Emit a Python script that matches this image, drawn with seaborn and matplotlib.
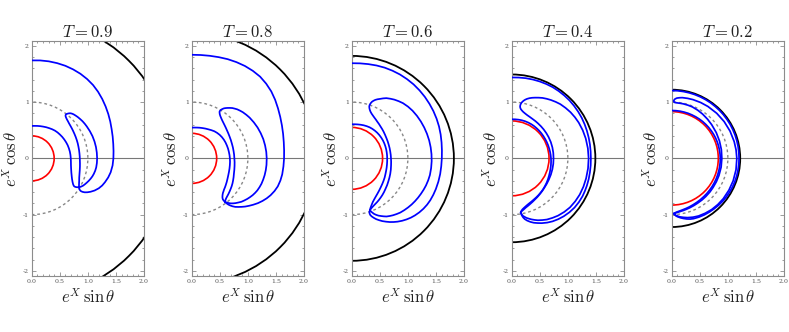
import numpy as np
import matplotlib
matplotlib.use("Agg")
import matplotlib.pyplot as plt
import seaborn as sns
import pandas as pd
from matplotlib.patches import Arc
from matplotlib.ticker import MultipleLocator, FixedLocator, FixedFormatter

# ---------------- data ----------------
T_VALUES = [0.9, 0.8, 0.6, 0.4, 0.2]
RED_RADIUS = [0.40, 0.445, 0.55, 0.665, 0.83]
BLACK_RADIUS = [2.45, 2.23, 1.82, 1.49, 1.22]
GRAY_RADIUS = 1.0

X_TICKS = [0.0, 0.5, 1.0, 1.5, 2.0]
X_TICK_LABELS = ["0.0", "0.5", "1.0", "1.5", "2.0"]
Y_TICKS = [-2, -1, 0, 1, 2]
Y_TICK_LABELS = ["-2", "-1", "0", "1", "2"]

# blue contour branches, read as (theta in degrees from the +y axis, e^X)
INNER_T09 = [(0, .576), (5, .579), (10, .585), (15, .592), (20, .60), (25, .61), (30, .62),
             (35, .632), (40, .643), (45, .651), (50, .657), (55, .664), (60, .67),
             (65, .676), (70, .682), (75, .686), (80, .69), (85, .693), (90, .696),
             (95, .701), (100, .71), (105, .727), (110, .752), (114, .78), (117, .806),
             (120, .84), (122, .87), (123.1, .895), (123.3, .915), (123, .935),
             (122.4, .958), (121.2, .985)]
OUTER_T09 = [(0, 1.74), (5, 1.746), (10, 1.75), (15, 1.751), (20, 1.75), (25, 1.744),
             (30, 1.735), (35, 1.72), (40, 1.70), (45, 1.672), (50, 1.64), (55, 1.607),
             (60, 1.575), (65, 1.544), (70, 1.515), (75, 1.493), (80, 1.475), (85, 1.463),
             (90, 1.455), (95, 1.446), (100, 1.428), (104, 1.404), (108, 1.372),
             (111, 1.345), (114, 1.308), (117, 1.258), (119.5, 1.205), (121.3, 1.16),
             (122.6, 1.12), (123.4, 1.08), (123.6, 1.045), (123, 1.015), (121.2, .985)]
LOOP_T09 = [(121.2, .985), (119.5, .968), (117.5, .951), (115, .933), (112, .913),
            (108, .895), (104, .882), (100, .872), (96, .864), (92, .858), (88, .856),
            (84, .855), (80, .856), (76, .858), (72, .862), (68, .866), (64, .871),
            (60, .877), (56, .885), (53, .892), (50, .90), (47, .91), (44.5, .922),
            (42, .935), (40.2, .948), (39, .96), (38.3, .972), (38, .985), (38.1, .998),
            (38.5, 1.01), (39, 1.023), (39.5, 1.035), (40.2, 1.048), (41, 1.06),
            (42.2, 1.071), (43.5, 1.08), (45.7, 1.09), (48, 1.10), (51, 1.11), (54, 1.12),
            (57, 1.127), (60, 1.133), (65, 1.143), (70, 1.152), (75, 1.158), (80, 1.162),
            (85, 1.164), (90, 1.165), (94, 1.164), (98, 1.16), (101, 1.152), (104, 1.14),
            (106.5, 1.127), (109, 1.11), (111.5, 1.091), (114, 1.07), (116, 1.053),
            (118, 1.035), (119.8, 1.012), (121.2, .985)]

INNER_T08 = [(0, .546), (5, .549), (10, .555), (15, .563), (20, .572), (25, .583),
             (30, .595), (35, .611), (40, .628), (45, .64), (50, .65), (55, .657), (60, .662),
             (65, .665), (70, .667), (75, .67), (80, .672), (85, .676), (90, .68), (95, .685),
             (100, .69), (105, .697), (110, .706), (115, .718), (120, .735), (124, .752),
             (128, .77), (131, .785), (134, .80), (136, .815), (138, .83), (139.7, .85),
             (141, .87), (142, .89), (142.7, .915), (142.8, .945), (142.5, .973)]
OUTER_T08 = [(0, 1.84), (5, 1.843), (10, 1.85), (15, 1.861), (20, 1.875), (25, 1.886),
             (30, 1.895), (35, 1.898), (40, 1.895), (45, 1.876), (50, 1.85), (55, 1.814),
             (60, 1.775), (65, 1.74), (70, 1.71), (75, 1.685), (80, 1.665), (85, 1.652),
             (90, 1.645), (95, 1.64), (100, 1.637), (104, 1.628), (108, 1.612),
             (111.5, 1.585), (115, 1.55), (118, 1.513), (121, 1.47), (124, 1.423),
             (127, 1.37), (129.5, 1.325), (132, 1.28), (134, 1.24), (136, 1.20),
             (138, 1.16), (139.5, 1.12), (140.6, 1.085), (141.5, 1.05), (142.2, 1.01),
             (142.5, .973)]
LOOP_T08 = [(142.5, .973), (141.4, .958), (140, .945), (138.6, .934), (137, .925),
            (134, .91), (131, .895), (128, .881), (125, .868), (121.5, .852), (118, .835),
            (114, .817), (110, .80), (105, .786), (100, .775), (95, .767), (90, .76),
            (85, .758), (80, .757), (75, .759), (70, .762), (65, .769), (60, .778),
            (56, .788), (52, .80), (48.5, .814), (45, .83), (42, .846), (39, .865),
            (36.5, .885), (34, .91), (32.5, .93), (31.5, .95), (30.9, .965), (30.8, .98),
            (31, 1.0), (31.5, 1.02), (32.2, 1.04), (33, 1.06), (34.2, 1.08), (35.5, 1.10),
            (37.2, 1.125), (39, 1.15), (41, 1.17), (43, 1.19), (45.5, 1.208), (48, 1.225),
            (51.5, 1.243), (55, 1.26), (60, 1.278), (65, 1.295), (70, 1.308), (75, 1.32),
            (80, 1.327), (85, 1.333), (90, 1.336), (95, 1.337), (99, 1.336), (103, 1.333),
            (106.5, 1.328), (110, 1.322), (113, 1.312), (116, 1.30), (118.5, 1.285),
            (121, 1.268), (123.5, 1.247), (126, 1.225), (128.5, 1.2), (131, 1.175),
            (133.2, 1.145), (135.5, 1.115), (137.3, 1.088), (139, 1.06), (140.3, 1.033),
            (141.5, 1.005), (142.5, .973)]

INNER_T06 = [(0, .605), (5, .608), (10, .612), (15, .618), (20, .625), (25, .631),
             (30, .637), (35, .64), (40, .642), (45, .643), (50, .643), (55, .642),
             (60, .641), (65, .639), (70, .637), (75, .635), (80, .633), (85, .632),
             (90, .632), (95, .634), (100, .638), (105, .644), (110, .652), (115, .663),
             (120, .678), (125, .693), (130, .71), (135, .73), (140, .755), (144, .778),
             (148, .805), (151, .83), (154, .86), (156, .888), (158, .92), (159.5, .948),
             (160.5, .976)]
OUTER_T06 = [(0, 1.69), (5, 1.694), (10, 1.70), (15, 1.708), (20, 1.715), (25, 1.718),
             (30, 1.72), (35, 1.718), (40, 1.715), (45, 1.708), (50, 1.70), (55, 1.69),
             (60, 1.68), (65, 1.668), (70, 1.655), (75, 1.64), (80, 1.625), (85, 1.613),
             (90, 1.605), (95, 1.601), (100, 1.60), (105, 1.598), (110, 1.595),
             (114, 1.591), (118, 1.585), (121.5, 1.575), (125, 1.56), (128.5, 1.54),
             (132, 1.515), (135, 1.49), (138, 1.46), (141, 1.427), (144, 1.39),
             (146.5, 1.356), (149, 1.32), (151.5, 1.28), (154, 1.24), (156, 1.203),
             (158, 1.165), (159.7, 1.125), (161, 1.09), (161.8, 1.06), (162, 1.03),
             (161.6, 1.0), (160.5, .976)]
LOOP_T06 = [(160.5, .976), (159.2, .96), (157.5, .945), (155.5, .93), (153, .915),
            (150, .90), (147, .885), (143.5, .867), (140, .85), (136, .83), (132, .81),
            (127, .79), (122, .77), (117, .754), (112, .74), (106, .725), (100, .712),
            (95, .705), (90, .70), (85, .698), (80, .697), (75, .699), (70, .702),
            (65, .708), (60, .715), (55, .726), (50, .74), (46, .752), (42, .765),
            (38.5, .78), (35, .795), (32, .812), (29, .83), (26.3, .85), (24, .87),
            (22, .894), (20.5, .92), (19.5, .945), (18.8, .97), (18.6, .995), (18.8, 1.02),
            (19.2, 1.045), (19.8, 1.07), (20.8, 1.095), (22, 1.12), (23.6, 1.145),
            (25.5, 1.17), (27.7, 1.203), (30, 1.235), (33, 1.263), (36, 1.29),
            (39.5, 1.316), (43, 1.34), (47.5, 1.36), (52, 1.375), (57, 1.386), (62, 1.395),
            (67, 1.403), (72, 1.41), (77, 1.416), (82, 1.42), (87, 1.423), (92, 1.425),
            (97, 1.425), (102, 1.424), (106, 1.417), (110, 1.408), (113.5, 1.397),
            (117, 1.385), (120.5, 1.373), (124, 1.36), (127.5, 1.346), (131, 1.33),
            (134.5, 1.313), (138, 1.295), (141, 1.273), (144, 1.25), (146.5, 1.228),
            (149, 1.205), (151, 1.178), (153, 1.15), (155, 1.122), (156.5, 1.095),
            (158, 1.065), (159, 1.035), (160, 1.005), (160.5, .976)]

INNER_T04 = [(0, .694), (5, .696), (10, .698), (15, .70), (20, .701), (25, .701), (30, .70),
             (35, .698), (40, .695), (45, .693), (50, .691), (55, .689), (60, .688),
             (65, .688), (70, .689), (75, .69), (80, .693), (85, .696), (90, .70),
             (95, .704), (100, .709), (105, .715), (110, .723), (115, .733), (120, .745),
             (125, .758), (130, .771), (135, .785), (140, .798), (144, .809), (148, .82),
             (152, .832), (155, .843), (158, .855), (161, .87), (164, .89), (166, .906),
             (168, .925), (169.5, .948), (170.5, .973)]
OUTER_T04 = [(0, 1.437), (5, 1.441), (10, 1.446), (15, 1.45), (20, 1.454), (25, 1.457),
             (30, 1.46), (35, 1.459), (40, 1.457), (45, 1.455), (50, 1.45), (55, 1.445),
             (60, 1.44), (65, 1.433), (70, 1.426), (75, 1.42), (80, 1.415), (85, 1.411),
             (90, 1.41), (95, 1.412), (100, 1.415), (105, 1.42), (110, 1.424), (114, 1.427),
             (118, 1.43), (123, 1.427), (128, 1.42), (133, 1.405), (138, 1.385),
             (142.5, 1.362), (147, 1.335), (151, 1.305), (155, 1.27), (158, 1.24),
             (161, 1.21), (163.5, 1.178), (166, 1.14), (167.8, 1.105), (169, 1.07),
             (169.9, 1.03), (170.3, 1.0), (170.5, .973)]
LOOP_T04 = [(170.5, .973), (169.2, .955), (167.5, .94), (165.8, .925), (164, .91),
            (161, .892), (158, .875), (154.5, .858), (151, .842), (146.5, .826), (142, .81),
            (137, .796), (132, .782), (126, .771), (120, .762), (112.5, .755), (105, .75),
            (97.5, .747), (90, .745), (82.5, .747), (75, .75), (67.5, .754), (60, .758),
            (54, .762), (48, .767), (42.5, .772), (37, .778), (32.5, .785), (28, .792),
            (24, .802), (20, .815), (17, .83), (14, .85), (12, .87), (10.5, .89),
            (9.6, .912), (9.2, .935), (9.2, .958), (9.5, .98), (10, 1.003), (10.8, 1.025),
            (11.8, 1.048), (13, 1.07), (14.6, 1.093), (16.5, 1.115), (18.6, 1.135),
            (21, 1.155), (24, 1.18), (27, 1.205), (30.5, 1.228), (34, 1.25), (38, 1.273),
            (42, 1.295), (47, 1.313), (52, 1.33), (57, 1.342), (62, 1.352), (68.5, 1.36),
            (75, 1.365), (82.5, 1.368), (90, 1.37), (97.5, 1.371), (105, 1.372),
            (111.5, 1.373), (118, 1.372), (124, 1.365), (130, 1.355), (135.5, 1.335),
            (141, 1.31), (145.5, 1.283), (150, 1.255), (153.5, 1.225), (157, 1.195),
            (159.5, 1.168), (162, 1.14), (164, 1.115), (166, 1.09), (167.5, 1.065),
            (169, 1.04), (170, 1.005), (170.5, .973)]

INNER_T02 = [(0, .85), (5, .85), (10, .851), (15, .851), (20, .852), (25, .852), (30, .853),
             (35, .854), (40, .855), (45, .856), (50, .857), (55, .858), (60, .86),
             (65, .861), (70, .862), (75, .862), (80, .863), (85, .864), (90, .865),
             (95, .866), (100, .867), (105, .868), (110, .87), (115, .872), (120, .874),
             (125, .877), (130, .88), (135, .884), (140, .888), (145, .894), (150, .90),
             (155, .908), (160, .918), (164, .926), (168, .935), (171, .944), (174, .955),
             (176, .966), (177.7, .981)]
OUTER_T02 = [(0, 1.205), (5, 1.205), (10, 1.205), (15, 1.205), (20, 1.205), (25, 1.205),
             (30, 1.205), (35, 1.205), (40, 1.204), (45, 1.204), (50, 1.204), (55, 1.203),
             (60, 1.203), (65, 1.202), (70, 1.202), (75, 1.201), (80, 1.201), (85, 1.20),
             (90, 1.20), (95, 1.20), (100, 1.199), (105, 1.199), (110, 1.198),
             (115, 1.196), (120, 1.193), (125, 1.19), (130, 1.185), (135, 1.179),
             (140, 1.172), (145, 1.166), (150, 1.16), (155, 1.151), (160, 1.14),
             (163, 1.128), (166, 1.11), (169, 1.088), (171.5, 1.068), (174, 1.045),
             (175.5, 1.028), (176.7, 1.005), (177.7, .981)]
LOOP_T02 = [(177.7, .981), (176, .973), (174, .965), (171, .957), (168, .95), (164, .942),
            (160, .935), (155, .927), (150, .92), (144, .915), (138, .91), (131, .905),
            (125, .90), (117.5, .897), (110, .895), (100, .894), (90, .893), (80, .898),
            (70, .905), (60, .916), (50, .93), (42.5, .944), (35, .96), (28.5, .973),
            (22, .985), (17, .988), (12, .99), (9, .99), (6, .99), (4.5, .991), (3, .995),
            (2.3, 1.005), (2, 1.02), (2.3, 1.035), (2.8, 1.05), (3.8, 1.063), (5, 1.075),
            (7.5, 1.086), (10, 1.095), (15, 1.103), (20, 1.11), (27.5, 1.118), (35, 1.125),
            (45, 1.133), (55, 1.14), (65, 1.146), (75, 1.152), (82.5, 1.156), (90, 1.16),
            (100, 1.163), (110, 1.165), (119, 1.165), (128, 1.165), (135, 1.161),
            (142, 1.155), (148.5, 1.143), (155, 1.13), (160, 1.112), (165, 1.09),
            (168.5, 1.07), (172, 1.05), (174, 1.032), (176, 1.015), (177, .998),
            (177.7, .981)]

BLUE_CURVES = [
    [INNER_T09, OUTER_T09, LOOP_T09],
    [INNER_T08, OUTER_T08, LOOP_T08],
    [INNER_T06, OUTER_T06, LOOP_T06],
    [INNER_T04, OUTER_T04, LOOP_T04],
    [INNER_T02, OUTER_T02, LOOP_T02],
]

# ---------------- style ----------------
sns.set_theme(style="white")
plt.rcParams["font.family"] = ["DejaVu Serif"]
plt.rcParams["mathtext.fontset"] = "cm"

FRAME = "#8c8c8c"
BLUE = "#0000ff"
RED = "#ff0000"

fig = plt.figure(figsize=(7.89, 3.32), dpi=100)
W, H = 789.0, 332.0
ax_w = 112.3 / W
ax_h = 235.3 / H
ax_b = 1 - 276.0 / H

for i, T in enumerate(T_VALUES):
    left = (31.7 + 160.0 * i) / W
    ax = fig.add_axes([left, ax_b, ax_w, ax_h])
    ax.set_xlim(0, 2)
    ax.set_ylim(-2.09, 2.09)

    ax.axhline(0, color="#777777", lw=0.8, zorder=1)

    # circles (semicircles on the right half-plane)
    for r, col, ls, lw in [(GRAY_RADIUS, "#888888", (0, (2.0, 2.0)), 1.0),
                           (RED_RADIUS[i], RED, "-", 1.2),
                           (BLACK_RADIUS[i], "black", "-", 1.3)]:
        arc = Arc((0, 0), 2 * r, 2 * r, theta1=-90, theta2=90, color=col,
                  lw=lw, linestyle=ls, zorder=2)
        ax.add_patch(arc)

    # blue contours: polar readings -> (e^X sin(theta), e^X cos(theta))
    for curve in BLUE_CURVES[i]:
        th = np.radians([p[0] for p in curve])
        rr = np.array([p[1] for p in curve])
        df = pd.DataFrame({"x": rr * np.sin(th), "y": rr * np.cos(th)})
        sns.lineplot(data=df, x="x", y="y", sort=False, estimator=None, ax=ax,
                     color=BLUE, lw=1.25, zorder=3, solid_joinstyle="round")

    # frame and ticks
    for sp in ax.spines.values():
        sp.set_color(FRAME)
        sp.set_linewidth(0.8)
    ax.xaxis.set_major_locator(FixedLocator(X_TICKS))
    ax.xaxis.set_major_formatter(FixedFormatter(X_TICK_LABELS))
    ax.yaxis.set_major_locator(FixedLocator(Y_TICKS))
    ax.yaxis.set_major_formatter(FixedFormatter(Y_TICK_LABELS))
    ax.xaxis.set_minor_locator(MultipleLocator(0.1))
    ax.yaxis.set_minor_locator(MultipleLocator(0.2))
    ax.tick_params(which="both", direction="in", top=True, right=True,
                   bottom=True, left=True, color=FRAME, width=0.6)
    ax.tick_params(which="major", length=3.0, labelsize=4.5, labelcolor="#555555", pad=2)
    ax.tick_params(which="minor", length=1.6)

    ax.set_xlabel(r"$e^{X}\,\sin\theta$", fontsize=12, labelpad=3, color="#222222")
    ax.set_ylabel(r"$e^{X}\,\cos\theta$", fontsize=12, labelpad=1, color="#222222")
    ax.set_title(r"$T = %s$" % T, fontsize=12, pad=3, color="#222222")

fig.savefig("out.png", dpi=100)
